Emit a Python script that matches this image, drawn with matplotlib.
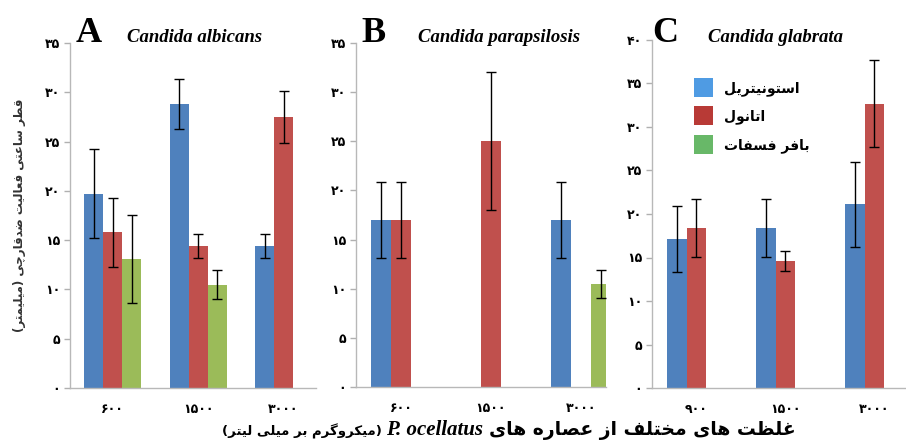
import numpy as np
import matplotlib
matplotlib.use("Agg")
import matplotlib.pyplot as plt
from matplotlib.patches import Patch

# --- data ---
conc_ab = ["۶۰۰", "۱۵۰۰", "۳۰۰۰"]
conc_c = ["۹۰۰", "۱۵۰۰", "۳۰۰۰"]
series_names = ["استونیتریل", "اتانول", "بافر فسفات"]

# A: Candida albicans
a_acn = [19.7, 28.8, 14.4]
a_acn_err = [4.5, 2.5, 1.2]
a_eth = [15.8, 14.4, 27.5]
a_eth_err = [3.5, 1.2, 2.6]
a_pbs = [13.1, 10.5, 0]
a_pbs_err = [4.5, 1.5, 0]

# B: Candida parapsilosis
b_acn = [17.0, 0, 17.0]
b_acn_err = [3.9, 0, 3.9]
b_eth = [17.0, 25.0, 0]
b_eth_err = [3.9, 7.0, 0]
b_pbs = [0, 0, 10.5]
b_pbs_err = [0, 0, 1.4]

# C: Candida glabrata
c_acn = [17.1, 18.4, 21.1]
c_acn_err = [3.8, 3.3, 4.9]
c_eth = [18.4, 14.6, 32.7]
c_eth_err = [3.3, 1.2, 5.0]
c_pbs = [0, 0, 0]
c_pbs_err = [0, 0, 0]

bar_colors = ["#4f81bd", "#c0504d", "#9bbb59"]
legend_colors = ["#4f9be3", "#b83a36", "#68b868"]

# --- tiny persian shaper (presentation forms + reverse), no bidi lib here ---
FORMS = {
    "ا": (0xFE8D, 0xFE8E, None, None),
    "ب": (0xFE8F, 0xFE90, 0xFE91, 0xFE92),
    "ت": (0xFE95, 0xFE96, 0xFE97, 0xFE98),
    "ج": (0xFE9D, 0xFE9E, 0xFE9F, 0xFEA0),
    "چ": (0xFB7A, 0xFB7B, 0xFB7C, 0xFB7D),
    "ح": (0xFEA1, 0xFEA2, 0xFEA3, 0xFEA4),
    "خ": (0xFEA5, 0xFEA6, 0xFEA7, 0xFEA8),
    "د": (0xFEA9, 0xFEAA, None, None),
    "ر": (0xFEAD, 0xFEAE, None, None),
    "ز": (0xFEAF, 0xFEB0, None, None),
    "س": (0xFEB1, 0xFEB2, 0xFEB3, 0xFEB4),
    "ص": (0xFEB9, 0xFEBA, 0xFEBB, 0xFEBC),
    "ض": (0xFEBD, 0xFEBE, 0xFEBF, 0xFEC0),
    "ط": (0xFEC1, 0xFEC2, 0xFEC3, 0xFEC4),
    "ظ": (0xFEC5, 0xFEC6, 0xFEC7, 0xFEC8),
    "ع": (0xFEC9, 0xFECA, 0xFECB, 0xFECC),
    "غ": (0xFECD, 0xFECE, 0xFECF, 0xFED0),
    "ف": (0xFED1, 0xFED2, 0xFED3, 0xFED4),
    "ق": (0xFED5, 0xFED6, 0xFED7, 0xFED8),
    "ک": (0xFB8E, 0xFB8F, 0xFB90, 0xFB91),
    "گ": (0xFB92, 0xFB93, 0xFB94, 0xFB95),
    "ل": (0xFEDD, 0xFEDE, 0xFEDF, 0xFEE0),
    "م": (0xFEE1, 0xFEE2, 0xFEE3, 0xFEE4),
    "ن": (0xFEE5, 0xFEE6, 0xFEE7, 0xFEE8),
    "ه": (0xFEE9, 0xFEEA, 0xFEEB, 0xFEEC),
    "و": (0xFEED, 0xFEEE, None, None),
    "ی": (0xFBFC, 0xFBFD, 0xFBFE, 0xFBFF),
}


def fa(text):
    out = []
    for i, ch in enumerate(text):
        if ch not in FORMS:
            out.append(ch)
            continue
        prev = text[i - 1] if i > 0 else ""
        nxt = text[i + 1] if i + 1 < len(text) else ""
        join_prev = prev in FORMS and FORMS[prev][2] is not None
        join_next = nxt in FORMS and FORMS[ch][2] is not None
        iso, fin, ini, med = FORMS[ch]
        if join_prev and join_next:
            code = med
        elif join_prev:
            code = fin
        elif join_next:
            code = ini
        else:
            code = iso
        out.append(chr(code))
    vis = "".join(reversed(out))
    return vis.translate(str.maketrans("()", ")("))


def fa_num(n):
    return str(n).translate(str.maketrans("0123456789", "۰۱۲۳۴۵۶۷۸۹"))


FA = ["DejaVu Sans"]
SERIF = ["Liberation Serif", "DejaVu Serif"]

fig = plt.figure(figsize=(9.06, 4.43), dpi=100)


def px_axes(left, right, top, bottom):
    return fig.add_axes([left / 906, 1 - bottom / 443, (right - left) / 906, (bottom - top) / 443])


def draw_panel(ax, cats, groups, errs, ymax, xright, letter, title, lx, tx):
    w = 0.222
    x = np.arange(len(cats))
    for i in range(3):
        vals = np.array(groups[i], dtype=float)
        ee = np.array(errs[i], dtype=float)
        m = vals > 0
        ax.bar(x[m] + (i - 1) * w, vals[m], w, color=bar_colors[i], zorder=2)
        ax.errorbar(x[m] + (i - 1) * w, vals[m], yerr=ee[m], fmt="none",
                    ecolor="black", elinewidth=1, capsize=3.5, capthick=1, zorder=3)
    ax.set_xlim(-0.5, xright)
    ax.set_ylim(0, ymax)
    yt = np.arange(0, ymax + 1, 5)
    ax.set_yticks(yt)
    ax.set_yticklabels([fa_num(v) for v in yt], family=FA, fontweight="bold", fontsize=9)
    ax.set_xticks(x)
    ax.set_xticklabels(cats, family=FA, fontweight="bold", fontsize=9)
    ax.tick_params(axis="x", length=0, pad=11)
    ax.tick_params(axis="y", length=4, width=1, color="#b0b0b0", pad=3)
    for s in ["top", "right"]:
        ax.spines[s].set_visible(False)
    for s in ["left", "bottom"]:
        ax.spines[s].set_color("#b8b8b8")
        ax.spines[s].set_linewidth(1)
    ax.set_facecolor("none")
    fig.text(lx / 906, 1 - 42 / 443, letter, family=SERIF, fontweight="bold",
             fontsize=26, ha="left", va="baseline")
    fig.text(tx / 906, 1 - 42 / 443, title, family=SERIF, fontweight="bold",
             style="italic", fontsize=13.5, ha="left", va="baseline")


axA = px_axes(70, 316, 43, 388)
draw_panel(axA, conc_ab, [a_acn, a_eth, a_pbs], [a_acn_err, a_eth_err, a_pbs_err],
           35, 2.38, "A", "Candida albicans", 76, 127)

axB = px_axes(356, 606, 43, 387)
draw_panel(axB, conc_ab, [b_acn, b_eth, b_pbs], [b_acn_err, b_eth_err, b_pbs_err],
           35, 2.28, "B", "Candida parapsilosis", 361, 418)

axC = px_axes(652, 906, 40, 388)
draw_panel(axC, conc_c, [c_acn, c_eth, c_pbs], [c_acn_err, c_eth_err, c_pbs_err],
           40, 2.354, "C", "Candida glabrata", 652, 708)

handles = [Patch(facecolor=c, edgecolor="none") for c in legend_colors]
fig.legend(handles, [fa(s) for s in series_names], loc="upper left",
           bbox_to_anchor=(694 / 906, 1 - 78 / 443), frameon=False, borderpad=0,
           borderaxespad=0, handlelength=1.37, handleheight=1.73, handletextpad=0.8,
           labelspacing=0.68, prop={"family": FA, "weight": "bold", "size": 10})

# y label
fig.text(20 / 906, 1 - 215 / 443, fa("قطر ساعتی فعالیت ضدقارچی (میلیمتر)"), family=FA,
         fontweight="bold", fontsize=8.5, rotation=90, ha="center", va="center", color="#333333")

# x label, in three pieces (rtl text + latin species name)
mid = fig.text(435 / 906, 1 - 430 / 443, "P. ocellatus", family=SERIF, fontweight="bold",
               style="italic", fontsize=15, ha="center", va="center")
fig.add_artist(plt.Annotation(fa("غلظت های مختلف از عصاره های"), xy=(1, 0.45), xycoords=mid,
                              xytext=(4, 0), textcoords="offset points", ha="left", va="center",
                              family=FA, fontweight="bold", fontsize=13.5))
fig.add_artist(plt.Annotation(fa("(میکروگرم بر میلی لیتر)"), xy=(0, 0.45), xycoords=mid,
                              xytext=(-3, 0), textcoords="offset points", ha="right", va="center",
                              family=FA, fontweight="bold", fontsize=9.5))

fig.savefig("out.png", dpi=100)
